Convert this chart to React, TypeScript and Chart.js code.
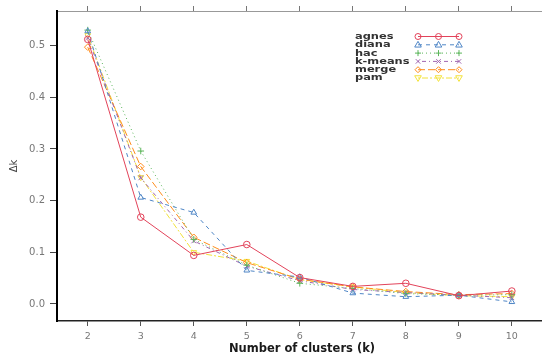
import React, { useEffect, useRef } from 'react';
import { Chart, registerables } from 'chart.js';

Chart.register(...registerables);

const kValues = [2, 3, 4, 5, 6, 7, 8, 9, 10];
const xTickValues = [2, 3, 4, 5, 6, 7, 8, 9, 10];
const yTickValues = [0, 0.1, 0.2, 0.3, 0.4, 0.5];

const seriesNames = ['agnes', 'diana', 'hac', 'k-means', 'merge', 'pam'];
const agnes = [0.512, 0.168, 0.094, 0.115, 0.051, 0.034, 0.040, 0.016, 0.025];
const diana = [0.528, 0.206, 0.177, 0.065, 0.052, 0.021, 0.014, 0.017, 0.004];
const hac = [0.530, 0.296, 0.125, 0.075, 0.040, 0.030, 0.020, 0.017, 0.018];
const kmeans = [0.515, 0.244, 0.122, 0.073, 0.045, 0.028, 0.022, 0.017, 0.012];
const merge = [0.497, 0.266, 0.129, 0.080, 0.048, 0.033, 0.024, 0.018, 0.020];
const pam = [0.520, 0.245, 0.100, 0.083, 0.047, 0.033, 0.022, 0.016, 0.014];
const seriesValues = [agnes, diana, hac, kmeans, merge, pam];

const xAxisTitle = 'Number of clusters (k)';
const yAxisTitle = 'Δk';

const seriesColors = ['#e2435a', '#4f86c6', '#5bb55a', '#a066b0', '#ff8c1a', '#f2e23a'];
const seriesDash: number[][] = [[], [4, 4], [1, 3], [1, 3, 4, 3], [7, 3], [2, 2, 6, 2]];
const seriesShapes = ['circle', 'triangle', 'plus', 'x', 'diamond', 'down'];

function chartPointStyle(shape: string): string {
  switch (shape) {
    case 'circle': return 'circle';
    case 'triangle': return 'triangle';
    case 'plus': return 'cross';
    case 'x': return 'crossRot';
    case 'diamond': return 'rectRot';
    case 'down': return 'triangle';
    default: return 'circle';
  }
}

function drawSymbol(ctx: CanvasRenderingContext2D, shape: string, x: number, y: number, r: number) {
  ctx.beginPath();
  if (shape === 'circle') {
    ctx.arc(x, y, r, 0, Math.PI * 2);
  } else if (shape === 'triangle') {
    ctx.moveTo(x, y - r * 1.15);
    ctx.lineTo(x + r * 1.1, y + r * 0.75);
    ctx.lineTo(x - r * 1.1, y + r * 0.75);
    ctx.closePath();
  } else if (shape === 'down') {
    ctx.moveTo(x, y + r * 1.15);
    ctx.lineTo(x + r * 1.1, y - r * 0.75);
    ctx.lineTo(x - r * 1.1, y - r * 0.75);
    ctx.closePath();
  } else if (shape === 'plus') {
    ctx.moveTo(x - r, y); ctx.lineTo(x + r, y);
    ctx.moveTo(x, y - r); ctx.lineTo(x, y + r);
  } else if (shape === 'x') {
    const d = r * 0.75;
    ctx.moveTo(x - d, y - d); ctx.lineTo(x + d, y + d);
    ctx.moveTo(x - d, y + d); ctx.lineTo(x + d, y - d);
  } else if (shape === 'diamond') {
    ctx.moveTo(x, y - r); ctx.lineTo(x + r, y); ctx.lineTo(x, y + r); ctx.lineTo(x - r, y);
    ctx.closePath();
  }
  ctx.stroke();
}

const overlayPlugin = {
  id: 'overlayPlugin',
  afterDraw(chart: any) {
    const ctx: CanvasRenderingContext2D = chart.ctx;
    ctx.save();
    // x-axis title
    ctx.fillStyle = '#1a1a1a';
    ctx.font = 'bold 11.5px "DejaVu Sans"';
    ctx.textAlign = 'center';
    ctx.textBaseline = 'middle';
    ctx.fillText(xAxisTitle, 302, 349);

    // legend
    const textX = 355;
    const rowY0 = 36.5;
    const rowStep = 8.3;
    const symX = [418, 438.5, 459];
    seriesNames.forEach((name, i) => {
      const y = rowY0 + i * rowStep;
      ctx.save();
      ctx.translate(textX, y);
      ctx.scale(1.2, 1);
      ctx.font = 'bold 9.5px "DejaVu Sans"';
      ctx.fillStyle = '#333';
      ctx.textAlign = 'left';
      ctx.textBaseline = 'middle';
      ctx.fillText(name, 0, 0);
      ctx.restore();

      ctx.strokeStyle = seriesColors[i];
      ctx.lineWidth = 1;
      ctx.setLineDash(seriesDash[i]);
      ctx.beginPath();
      ctx.moveTo(symX[0], y);
      ctx.lineTo(symX[2], y);
      ctx.stroke();
      ctx.setLineDash([]);
      symX.forEach((sx) => drawSymbol(ctx, seriesShapes[i], sx, y, 3));
    });
    ctx.restore();
  },
};

export default function App() {
  const canvasRef = useRef<HTMLCanvasElement | null>(null);

  useEffect(() => {
    document.body.style.margin = '0';
    const canvas = canvasRef.current;
    if (!canvas) return;

    const datasets = seriesNames.map((name, i) => ({
      label: name,
      data: kValues.map((k, j) => ({ x: k, y: seriesValues[i][j] })),
      borderColor: seriesColors[i],
      backgroundColor: 'rgba(0,0,0,0)',
      borderWidth: 1,
      borderDash: seriesDash[i],
      pointStyle: chartPointStyle(seriesShapes[i]),
      pointRotation: seriesShapes[i] === 'down' ? 180 : 0,
      pointRadius: 3.3,
      pointBorderWidth: 1,
      pointBorderColor: seriesColors[i],
      pointBackgroundColor: 'rgba(0,0,0,0)',
      tension: 0,
      fill: false,
    }));

    const xMin = 1.42;
    const xMax = 10.55;

    const chart = new Chart(canvas, {
      type: 'line',
      data: { datasets },
      plugins: [overlayPlugin],
      options: {
        animation: false,
        responsive: false,
        maintainAspectRatio: false,
        layout: { padding: 0 },
        plugins: {
          legend: { display: false },
          tooltip: { enabled: false },
          title: { display: false },
        },
        scales: {
          x: {
            type: 'linear',
            position: 'bottom',
            min: xMin,
            max: xMax,
            afterBuildTicks: (s: any) => { s.ticks = xTickValues.map((v) => ({ value: v })); },
            afterFit: (s: any) => { s.height = 33; },
            grid: { drawOnChartArea: false, drawTicks: true, tickLength: 5, color: '#555' },
            border: { color: '#222', width: 1.5 },
            ticks: {
              color: '#777',
              font: { family: 'DejaVu Sans', size: 9.5 },
              padding: 5,
              maxRotation: 0,
              autoSkip: false,
              callback: (v: any) => String(v),
            },
          },
          x2: {
            type: 'linear',
            position: 'top',
            min: xMin,
            max: xMax,
            afterBuildTicks: (s: any) => { s.ticks = xTickValues.map((v) => ({ value: v })); },
            afterFit: (s: any) => { s.height = 9; },
            grid: { drawOnChartArea: false, drawTicks: true, tickLength: 5, color: '#777' },
            border: { color: '#999', width: 1 },
            ticks: { display: false },
          },
          y: {
            type: 'linear',
            position: 'left',
            min: -0.033,
            max: 0.567,
            afterBuildTicks: (s: any) => { s.ticks = yTickValues.map((v) => ({ value: v })); },
            afterFit: (s: any) => { s.width = 57; },
            grid: { drawOnChartArea: false, drawTicks: true, tickLength: 7, color: '#444' },
            border: { color: '#000', width: 2 },
            ticks: {
              color: '#777',
              font: { family: 'DejaVu Sans', size: 10 },
              padding: 5,
              callback: (v: any) => Number(v).toFixed(1),
            },
            title: {
              display: true,
              text: yAxisTitle,
              color: '#444',
              font: { family: 'DejaVu Sans', size: 10 },
              padding: { top: 8, bottom: 0 },
            },
          },
        },
      },
    } as any);

    return () => { chart.destroy(); };
  }, []);

  return (
    <div style={{ width: 546, height: 354, background: '#fff' }}>
      <canvas ref={canvasRef} width={546} height={354} style={{ display: 'block' }} />
    </div>
  );
}
